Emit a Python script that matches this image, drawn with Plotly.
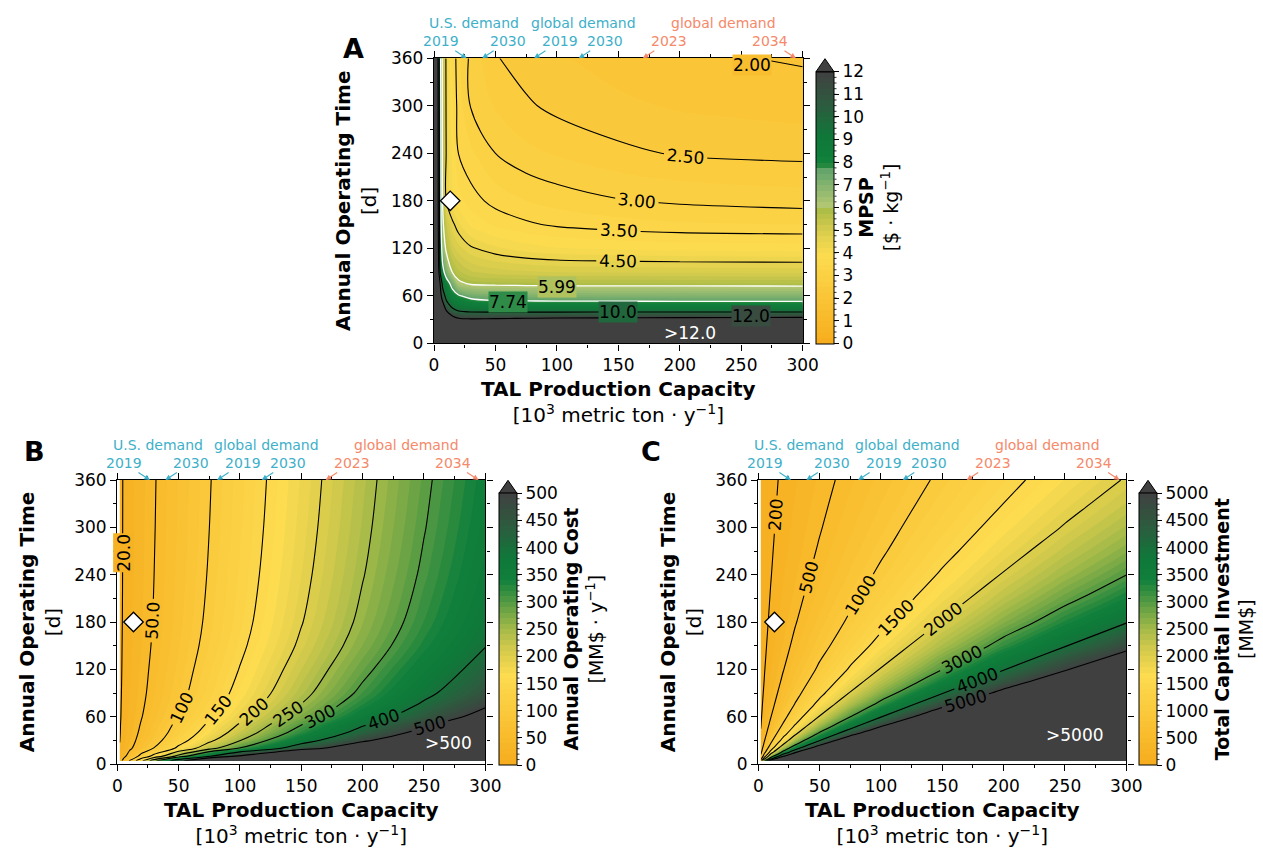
import plotly.graph_objects as go

W, H = 1263, 850
FONT = "DejaVu Sans"

# ------------------------------------------------------------------ data
# Panel A: MPSP [$/kg] on a capacity x days grid
capacity_A = [0, 3, 5, 7, 10, 15, 20, 30, 50, 75, 100, 150, 200, 300]
days_A = [0, 20, 30, 40, 50, 60, 75, 90, 120, 150, 180, 240, 300, 360]
mpsp = [
    [100, 100, 100, 100, 100, 100, 100, 100, 100, 100, 100, 100, 100, 100],
    [60, 35, 28, 25, 22, 20.5, 20, 19.5, 19.5, 19.5, 19.5, 19.5, 19.5, 19.5],
    [45, 25, 20, 17, 15, 13.2, 12.4, 12.2, 12.3, 12.4, 12.5, 12.6, 12.7, 12.8],
    [40, 20, 16, 14, 12.2, 10.6, 10.1, 9.9, 9.85, 9.85, 9.85, 9.85, 9.85, 9.85],
    [40, 18, 14, 12.5, 10.4, 9.3, 8.8, 8.4, 8.15, 8.1, 8.08, 8.07, 8.06, 8.05],
    [40, 16, 13, 10.8, 9.5, 8.3, 7.85, 7.35, 7.15, 7.08, 7.05, 7.02, 7.0, 7.0],
    [40, 15, 12, 9.6, 8.4, 7.3, 6.2, 5.92, 5.85, 5.82, 5.80, 5.79, 5.78, 5.77],
    [40, 14.0, 10.0, 8.2, 7.1, 5.95, 5.55, 5.28, 5.12, 5.04, 5.0, 4.97, 4.95, 4.93],
    [40, 13.2, 9.3, 6.9, 5.75, 5.1, 4.85, 4.55, 4.3, 4.12, 4.02, 3.95, 3.91, 3.88],
    [40, 13.0, 8.9, 6.2, 5.3, 4.6, 4.3, 3.95, 3.70, 3.55, 3.45, 3.35, 3.29, 3.25],
    [40, 12.9, 8.77, 5.99, 4.5, 4.05, 3.85, 3.62, 3.40, 3.25, 3.15, 3.02, 2.95, 2.88],
    [40, 12.8, 8.64, 5.78, 4.45, 3.95, 3.49, 3.30, 3.0, 2.82, 2.72, 2.57, 2.47, 2.42],
    [40, 12.7, 8.5, 5.67, 4.40, 3.77, 3.38, 2.98, 2.72, 2.54, 2.43, 2.30, 2.22, 2.14],
    [40, 12.6, 8.3, 5.56, 4.37, 3.72, 3.32, 2.92, 2.52, 2.38, 2.28, 2.15, 2.05, 1.97],
]
mpsp_auto_label_levels = [2.5, 3.0, 3.5, 4.5]
mpsp_plain_levels = [2.0, 10.0, 12.0]
mpsp_white_levels = [5.99, 7.74]

# Panel B: annual operating cost [MM$/y]
capacity_BC = [2, 5, 10, 20, 30, 50, 75, 100, 150, 200, 250, 300]
days_B = [4, 10, 20, 30, 40, 50, 60, 75, 90, 120, 150, 180, 240, 300, 360]
aoc = [
    [32.8, 59.4, 103.8, 192.6, 281.4, 459, 681, 903, 1347, 1791, 2235, 2679],
    [25.0, 40.0, 65.0, 114.9, 164.9, 264.8, 389.6, 514.5, 764.3, 1014, 1264, 1514],
    [20.8, 29.4, 43.9, 72.7, 101.6, 159.3, 231.5, 303.6, 447.9, 592.2, 736.5, 880.8],
    [19.7, 26.7, 38.3, 61.6, 84.9, 131.6, 189.8, 248.1, 364.7, 481.2, 597.8, 714.3],
    [19.1, 25.3, 35.5, 56.1, 76.6, 117.7, 169.0, 220.4, 323.0, 425.7, 528.4, 631.1],
    [18.8, 24.4, 33.9, 52.7, 71.6, 109.4, 156.5, 203.7, 298.1, 392.4, 486.8, 581.1],
    [18.4, 23.6, 32.2, 49.4, 66.6, 101.0, 144.0, 187.1, 273.1, 359.1, 445.1, 531.2],
    [18.2, 22.9, 30.8, 46.5, 62.3, 93.8, 133.2, 172.6, 251.4, 330.2, 409.1, 490.0],
    [18.0, 22.4, 29.8, 44.5, 59.3, 88.8, 125.7, 162.6, 236.4, 310.3, 384.1, 457.9],
    [17.7, 21.8, 28.7, 42.3, 56.0, 83.3, 117.4, 151.5, 219.8, 288.1, 356.3, 424.6],
    [17.6, 21.4, 27.8, 40.5, 53.3, 78.8, 110.7, 142.7, 206.5, 270.3, 334.1, 398.0],
    [17.4, 21.1, 27.2, 39.4, 51.6, 76.1, 106.6, 137.1, 198.2, 259.2, 320.3, 381.3],
    [17.3, 20.8, 26.7, 38.3, 50.0, 73.3, 102.4, 131.6, 189.8, 248.1, 306.4, 364.7],
    [17.3, 20.7, 26.3, 37.6, 49.0, 71.6, 99.9, 128.2, 184.8, 241.4, 298.1, 354.7],
    [17.2, 20.6, 26.1, 37.2, 48.3, 70.5, 98.3, 126.0, 181.5, 237.0, 292.5, 348.0],
]
aoc_levels = [20, 50, 100, 150, 200, 250, 300, 400, 500]

# Panel C: total capital investment [MM$]
days_C = [4, 7, 10, 15, 20, 25, 30, 38, 45, 52, 60, 75, 90, 105, 120, 150, 180, 210, 240, 270, 300, 330, 360]
tci = [
    [1256, 2996, 5896, 11696, 17496, 29096, 43596, 58096, 87096, 116096, 145096, 174096],
    [759, 1753, 3410, 6725, 10039, 16667, 24953, 33239, 49810, 66382, 82953, 99525],
    [560, 1256, 2416, 4736, 7056, 11696, 17496, 23296, 34896, 46496, 58096, 69696],
    [405, 869, 1643, 3189, 4736, 7829, 11696, 15563, 23296, 31029, 38763, 46496],
    [328, 676, 1256, 2416, 3576, 5896, 8796, 11696, 17496, 23296, 29096, 34896],
    [282, 560, 1024, 1952, 2880, 4736, 7056, 9376, 14016, 18656, 23296, 27936],
    [251, 483, 869, 1643, 2416, 3963, 5896, 7829, 11696, 15563, 19429, 23296],
    [218, 401, 707, 1317, 1928, 3149, 4675, 6201, 9254, 12307, 15359, 18412],
    [199, 354, 612, 1127, 1643, 2674, 3963, 5252, 7829, 10407, 12985, 15563],
    [185, 319, 542, 988, 1435, 2327, 3442, 4558, 6788, 9019, 11250, 13481],
    [173, 289, 483, 869, 1256, 2029, 2996, 3963, 5896, 7829, 9763, 11696],
    [158, 251, 405, 715, 1024, 1643, 2416, 3189, 4736, 6283, 7829, 9376],
    [148, 225, 354, 612, 869, 1385, 2029, 2674, 3963, 5252, 6540, 7829],
    [140, 206, 317, 538, 759, 1201, 1753, 2306, 3410, 4515, 5620, 6725],
    [135, 193, 289, 483, 676, 1063, 1546, 2029, 2996, 3963, 4929, 5896],
    [127, 173, 251, 405, 560, 869, 1256, 1643, 2416, 3189, 3963, 4736],
    [122, 160, 225, 354, 483, 740, 1063, 1385, 2029, 2674, 3318, 3963],
    [118, 151, 207, 317, 427, 648, 925, 1201, 1753, 2306, 2858, 3410],
    [115, 144, 193, 289, 386, 579, 821, 1063, 1546, 2029, 2513, 2996],
    [113, 139, 182, 268, 354, 526, 740, 955, 1385, 1815, 2244, 2674],
    [111, 135, 173, 251, 328, 483, 676, 869, 1256, 1643, 2029, 2416],
    [110, 131, 166, 237, 307, 448, 623, 799, 1151, 1502, 1854, 2205],
    [109, 128, 160, 225, 289, 418, 579, 740, 1063, 1385, 1707, 2029],
]
tci_levels = [200, 500, 1000, 1500, 2000, 3000, 4000, 5000]

# demand markers on the top axis
us_demand = [26.6, 39.2]
us_years = ["2019", "2030"]
global_demand = [81.4, 117.8]
global_years = ["2019", "2030"]
global_demand2 = [169.9, 294.5]
global_years2 = ["2023", "2034"]

# current design point
design_x = [13.2]
design_y = [180]

# ------------------------------------------------------------------ style
TEAL = "#3eb0c9"
ORANGE = "#f5896a"
CS = [
    [0.0, "#f6ac1c"], [0.33, "#fddc50"], [0.42, "#d6cb4c"], [0.5, "#a3ba48"],
    [0.58, "#63a044"], [0.68, "#10803c"], [0.76, "#0f7839"], [0.88, "#2d5b3f"],
    [1.0, "#404040"],
]
# same scale, lightened over the hatched MPSP range (5.99 - 7.74 of 12)
CS_A = [
    [0.0, "#f6ac1c"], [0.33, "#fddc50"], [0.42, "#d6cb4c"], [0.495, "#a9bc48"],
    [0.5, "#b8c972"], [0.58, "#86b46f"], [0.645, "#5fa26b"],
    [0.65, "#298a3e"], [0.68, "#10803c"], [0.76, "#0f7839"], [0.88, "#2d5b3f"],
    [1.0, "#404040"],
]

# plot areas in pixels (left, right, top, bottom)
PA = dict(A=(434, 802.7, 58.3, 343.3), B=(117.3, 485.3, 480, 764), C=(758.3, 1126.3, 480, 764))
# colorbars (left px, top px of bar, bottom px of bar)
CB = dict(A=(816, 71.7, 343.3), B=(499, 493.3, 765), C=(1139, 493.3, 765))
CB_THICK = 18
TICK = 17
TITLE = 20


def xdom(p):
    return [PA[p][0] / W, PA[p][1] / W]


def ydom(p):
    return [1 - PA[p][3] / H, 1 - PA[p][2] / H]


def colorbar(p, ticks, title):
    left, top, bot = CB[p]
    return dict(
        x=left / W, xanchor="left", y=1 - (top + bot) / 2 / H, yanchor="middle",
        len=(bot - top) / H, lenmode="fraction", thickness=CB_THICK, thicknessmode="pixels",
        xpad=0, ypad=0, outlinewidth=1, outlinecolor="black",
        tickmode="array", tickvals=ticks, ticks="outside", ticklen=5, tickcolor="black",
        tickfont=dict(size=TICK, family=FONT, color="black"),
        title=dict(text=title, side="right", font=dict(size=19, family=FONT, color="black")),
    )


fig = go.Figure()


def fill_trace(p, xa, ya, xs, ys, z, zmax, step, cs, cb_ticks, cb_title):
    fig.add_trace(go.Contour(
        x=xs, y=ys, z=z, xaxis=xa, yaxis=ya, colorscale=cs, zmin=0, zmax=zmax,
        autocontour=False, contours=dict(start=0, end=zmax, size=step, coloring="fill", showlines=False),
        line=dict(width=0, smoothing=1.0), colorbar=colorbar(p, cb_ticks, cb_title),
        hoverinfo="skip"))


def line_trace(xa, ya, xs, ys, z, lv, fmt, color, labels):
    fig.add_trace(go.Contour(
        x=xs, y=ys, z=z, xaxis=xa, yaxis=ya, showscale=False, autocontour=False,
        contours=dict(start=lv, end=lv, size=1, coloring="none", showlabels=labels,
                      labelformat=fmt, labelfont=dict(size=17, color="black", family=FONT)),
        line=dict(color=color, width=1.1 if color == "black" else 1.3, smoothing=1.0), hoverinfo="skip"))


# panel A
fill_trace("A", "x", "y", capacity_A, days_A, mpsp, 12, 0.25, CS_A,
           list(range(0, 13)), "<b>MPSP</b><br>[$ · kg<sup>−1</sup>]")
for lv in mpsp_auto_label_levels:
    line_trace("x", "y", capacity_A, days_A, mpsp, lv, ".3g", "black", True)
for lv in mpsp_plain_levels:
    line_trace("x", "y", capacity_A, days_A, mpsp, lv, ".3g", "black", False)
for lv in mpsp_white_levels:
    line_trace("x", "y", capacity_A, days_A, mpsp, lv, ".3g", "white", False)

# panel B
fill_trace("B", "x2", "y2", capacity_BC, days_B, aoc, 500, 10, CS,
           list(range(0, 501, 50)), "<b>Annual Operating Cost</b><br>[MM$ · y<sup>−1</sup>]")
for lv in aoc_levels:
    line_trace("x2", "y2", capacity_BC, days_B, aoc, lv, ".3g", "black", lv != 20)

# panel C
fill_trace("C", "x3", "y3", capacity_BC, days_C, tci, 5000, 100, CS,
           list(range(0, 5001, 500)), "<b>Total Capital Investment</b><br>[MM$]")
for lv in tci_levels:
    line_trace("x3", "y3", capacity_BC, days_C, tci, lv, "d", "black", True)

for xa, ya in (("x", "y"), ("x2", "y2"), ("x3", "y3")):
    fig.add_trace(go.Scatter(x=design_x, y=design_y, xaxis=xa, yaxis=ya, mode="markers",
                             marker=dict(symbol="diamond", size=15, color="white",
                                         line=dict(color="black", width=1.3)),
                             showlegend=False, hoverinfo="skip"))

XT = "<b>TAL Production Capacity</b><br>[10<sup>3</sup> metric ton · y<sup>−1</sup>]"
YT = "<b>Annual Operating Time</b><br>[d]"


def xaxis(p, anchor):
    return dict(domain=xdom(p), anchor=anchor, range=[0, 300], tickmode="array", automargin=False,
                tickvals=[0, 50, 100, 150, 200, 250, 300], ticks="outside", ticklen=6, tickwidth=1.2,
                tickcolor="black", minor=dict(tick0=0, dtick=25, ticks="outside", ticklen=3, tickcolor="black"),
                showline=True, linecolor="black", linewidth=1.4, mirror="ticks", showgrid=False,
                zeroline=False, tickfont=dict(size=TICK, family=FONT, color="black"),
                title=dict(text=XT, font=dict(size=TITLE, family=FONT, color="black"), standoff=8))


def yaxis(p, anchor):
    return dict(domain=ydom(p), anchor=anchor, range=[0, 360], tickmode="array", automargin=False,
                tickvals=[0, 60, 120, 180, 240, 300, 360], ticks="outside", ticklen=6, tickwidth=1.2,
                tickcolor="black", minor=dict(tick0=0, dtick=30, ticks="outside", ticklen=3, tickcolor="black"),
                showline=True, linecolor="black", linewidth=1.4, mirror="ticks", showgrid=False,
                zeroline=False, tickfont=dict(size=TICK, family=FONT, color="black"),
                title=dict(text=YT, font=dict(size=TITLE, family=FONT, color="black"), standoff=8))


annotations = []
shapes = []


def demand_group(xa, ya, vals, years, color, label, dirs, label_shift):
    for v, yr, d in zip(vals, years, dirs):
        annotations.append(dict(x=v, y=360, xref=xa, yref=ya, text=yr, showarrow=True,
                                ax=d * 26, ay=-17, arrowhead=2, arrowsize=1, arrowwidth=1.1,
                                arrowcolor=color, standoff=0, font=dict(size=14, color=color, family=FONT)))
    annotations.append(dict(x=sum(vals) / len(vals), y=360, xref=xa, yref=ya, text=label, showarrow=False,
                            yshift=35, xshift=label_shift, font=dict(size=14, color=color, family=FONT)))


for xa, ya in (("x", "y"), ("x2", "y2"), ("x3", "y3")):
    demand_group(xa, ya, us_demand, us_years, TEAL, "U.S. demand", (-1, 1), 0)
    demand_group(xa, ya, global_demand, global_years, TEAL, "global demand", (1, 1), 27)
    demand_group(xa, ya, global_demand2, global_years2, ORANGE, "global demand", (1, -1), 4)


def clabel(xa, ya, x, y, text, bg, angle=0):
    annotations.append(dict(x=x, y=y, xref=xa, yref=ya, text=text, showarrow=False, textangle=angle,
                            bgcolor=bg, borderpad=0, font=dict(size=17, color="black", family=FONT)))


# inline contour labels placed where the reference shows them
clabel("x", "y", 259, 351, "2.00", "#f8be30")
clabel("x", "y", 100, 71.5, "5.99", "#b0c25e")
clabel("x", "y", 60, 52, "7.74", "#2f8c48")
clabel("x", "y", 150, 39.5, "10.0", "#21673d")
clabel("x", "y", 258, 35, "12.0", "#394c40")
clabel("x2", "y2", 4.8, 268, "20.0", "#f7b224", -90)

annotations += [
    dict(x=208, y=13, xref="x", yref="y", text=">12.0", showarrow=False,
         font=dict(size=17, color="white", family=FONT)),
    dict(x=270, y=26, xref="x2", yref="y2", text=">500", showarrow=False,
         font=dict(size=17, color="white", family=FONT)),
    dict(x=258, y=37, xref="x3", yref="y3", text=">5000", showarrow=False,
         font=dict(size=17, color="white", family=FONT)),
    dict(x=341 / W, y=1 - 31 / H, xref="paper", yref="paper", text="<b>A</b>", showarrow=False,
         font=dict(size=27, color="black", family=FONT)),
    dict(x=22 / W, y=1 - 451 / H, xref="paper", yref="paper", text="<b>B</b>", showarrow=False,
         font=dict(size=27, color="black", family=FONT)),
    dict(x=651 / W, y=1 - 451 / H, xref="paper", yref="paper", text="<b>C</b>", showarrow=False,
         font=dict(size=27, color="black", family=FONT)),
]

# colorbar "extend" triangles and minor ticks
MINOR = dict(A=(12, 0.25), B=(500, 10), C=(5000, 100))
for p in ("A", "B", "C"):
    left, top, bot = CB[p]
    x0, x1 = left / W, (left + CB_THICK) / W
    xm = (left + CB_THICK / 2) / W
    yt, ya_ = 1 - top / H, 1 - (top - 13) / H
    shapes.append(dict(type="path", xref="paper", yref="paper",
                       path=f"M {x0},{yt} L {x1},{yt} L {xm},{ya_} Z",
                       fillcolor="#404040", line=dict(color="black", width=1)))
    zmax, step = MINOR[p]
    n = int(round(zmax / step))
    for i in range(1, n):
        py = bot - (bot - top) * i / n
        shapes.append(dict(type="line", xref="paper", yref="paper",
                           x0=(left + CB_THICK) / W, x1=(left + CB_THICK + 2.5) / W,
                           y0=1 - py / H, y1=1 - py / H, line=dict(color="black", width=0.8)))

# hatched segment on the MPSP colorbar
left, top, bot = CB["A"]
ppu = (bot - top) / 12.0
yb = bot - mpsp_white_levels[0] * ppu
yt_ = bot - mpsp_white_levels[1] * ppu
hh = yb - yt_
shapes.append(dict(type="rect", xref="paper", yref="paper", x0=left / W, x1=(left + CB_THICK) / W,
                   y0=1 - yb / H, y1=1 - yt_ / H, line=dict(color="white", width=1)))
off = -CB_THICK + 4
while off < hh:
    xa0, ya0 = 0.0, off
    xa1, ya1 = CB_THICK, off + CB_THICK
    if ya0 < 0:
        xa0, ya0 = -ya0, 0.0
    if ya1 > hh:
        xa1, ya1 = xa1 - (ya1 - hh), hh
    shapes.append(dict(type="line", xref="paper", yref="paper",
                       x0=(left + xa0) / W, x1=(left + xa1) / W,
                       y0=1 - (yb - ya0) / H, y1=1 - (yb - ya1) / H,
                       line=dict(color="white", width=1)))
    off += 9

fig.update_layout(
    width=W, height=H, margin=dict(l=0, r=0, t=0, b=0, autoexpand=False),
    paper_bgcolor="white", plot_bgcolor="white", showlegend=False,
    font=dict(family=FONT, color="black"),
    xaxis=xaxis("A", "y"), yaxis=yaxis("A", "x"),
    xaxis2=xaxis("B", "y2"), yaxis2=yaxis("B", "x2"),
    xaxis3=xaxis("C", "y3"), yaxis3=yaxis("C", "x3"),
    annotations=annotations, shapes=shapes,
)

fig.write_html("out.html", config={"displayModeBar": False},
               post_script="document.body.style.margin='0px';")
